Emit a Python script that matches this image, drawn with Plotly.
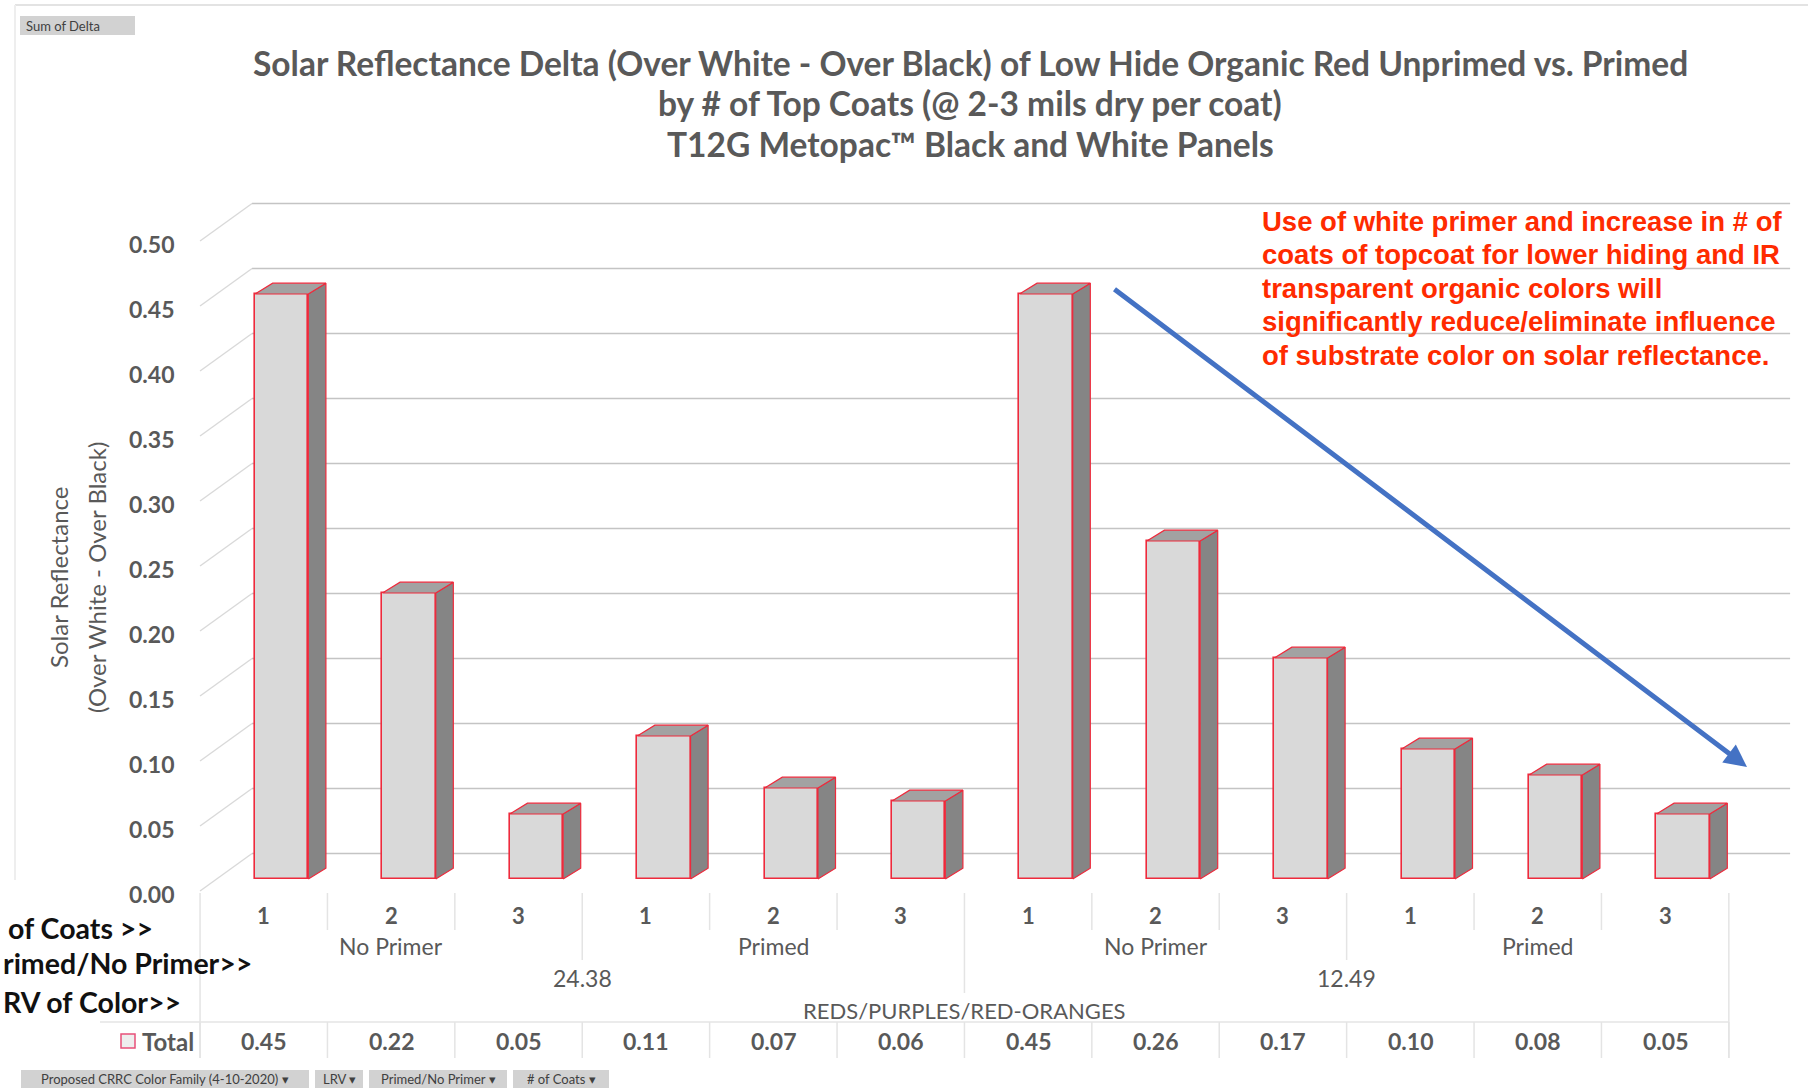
import plotly.graph_objects as go

# ---------------- data ----------------
family_label = ["REDS/PURPLES/RED-ORANGES"]
lrv_groups = ["24.38", "12.49"]
primer_groups = ["No Primer", "Primed", "No Primer", "Primed"]
coats = ["1", "2", "3", "1", "2", "3", "1", "2", "3", "1", "2", "3"]
delta_total = [0.45, 0.22, 0.05, 0.11, 0.07, 0.06, 0.45, 0.26, 0.17, 0.10, 0.08, 0.05]
y_ticks = [0.00, 0.05, 0.10, 0.15, 0.20, 0.25, 0.30, 0.35, 0.40, 0.45, 0.50]

title_lines = [
    "Solar Reflectance Delta (Over White - Over Black) of Low Hide Organic Red Unprimed vs. Primed",
    "by # of Top Coats (@ 2-3 mils dry per coat)",
    "T12G Metopac\u2122 Black and White Panels",
]
note_lines = [
    "Use of white primer and increase in # of",
    "coats of topcoat for lower hiding and IR",
    "transparent organic colors will",
    "significantly reduce/eliminate influence",
    "of substrate color on solar reflectance.",
]
# row header boxes (their left parts run past the sheet edge)
row_headers = ["of Coats >>", "rimed/No Primer>>", "RV of Color>>"]
filter_buttons = ["Proposed CRRC Color Family (4-10-2020) \u25be", "LRV \u25be",
                  "Primed/No Primer \u25be", "# of Coats \u25be"]

# ---------------- geometry / style ----------------
W, H = 1808, 1088
X0_PX, PX_PER_CAT = 281.7, 127.4      # front-face centre of first column, column pitch
Y0_PX, PX_PER_UNIT = 879.0, 1300.0    # baseline of column fronts, pixels per unit of delta

BAR_W = 0.418            # front face width (category units)
DEPTH_DX, DEPTH_DY = 0.138, 0.0083     # column depth (oblique projection)
WALL_X0, WALL_X1 = -0.233, 11.84       # back wall extent
WALL_DY = 0.0196                        # back wall vertical shift
FRONT_X0, FRONT_DY = -0.641, -0.0092    # front edge of the side wall
TICK_X = -0.83
LABEL_DX = -0.141                       # category label offset from column centre

GREY_TXT = "#595959"
RED_EDGE = "#ee2a3c"
FONT = "Lato"


def px(x):
    return x / W


def py(y):
    return 1 - y / H


def label(x, y, text, size, color=GREY_TXT, bold=False, family=FONT,
          xref="paper", yref="paper", xanchor="center", angle=0):
    return dict(xref=xref, yref=yref, x=x, y=y, text=text, showarrow=False,
                xanchor=xanchor, yanchor="middle", textangle=angle,
                font=dict(family=family, size=size, color=color,
                          weight=700 if bold else 400))


n = len(delta_total)
idx = list(range(n))

fig = go.Figure()

# front faces
fig.add_trace(go.Bar(
    x=idx, y=delta_total, width=BAR_W,
    marker=dict(color="#d9d9d9", line=dict(color=RED_EDGE, width=1.6)),
    hoverinfo="skip", showlegend=False,
))

# side and top faces of the 3-D columns
side_x, side_y, top_x, top_y = [], [], [], []
for i, v in zip(idx, delta_total):
    r = i + BAR_W / 2
    l = i - BAR_W / 2
    side_x += [r, r, r + DEPTH_DX, r + DEPTH_DX, r, None]
    side_y += [0, v, v + DEPTH_DY, DEPTH_DY, 0, None]
    top_x += [l, r, r + DEPTH_DX, l + DEPTH_DX, l, None]
    top_y += [v, v, v + DEPTH_DY, v + DEPTH_DY, v, None]

fig.add_trace(go.Scatter(x=side_x, y=side_y, mode="lines", fill="toself",
                         fillcolor="#858585", line=dict(color=RED_EDGE, width=1.2),
                         hoverinfo="skip", showlegend=False))
fig.add_trace(go.Scatter(x=top_x, y=top_y, mode="lines", fill="toself",
                         fillcolor="#a2a2a2", line=dict(color=RED_EDGE, width=1.2),
                         hoverinfo="skip", showlegend=False))

shapes = []
annotations = []

# back wall gridlines, side wall diagonals and value labels
for t in y_ticks:
    shapes.append(dict(type="line", xref="x", yref="y", layer="below",
                       x0=WALL_X0, x1=WALL_X1, y0=t + WALL_DY, y1=t + WALL_DY,
                       line=dict(color="#c4c4c4", width=1.6)))
    shapes.append(dict(type="line", xref="x", yref="y", layer="below",
                       x0=FRONT_X0, x1=WALL_X0, y0=t + FRONT_DY, y1=t + WALL_DY,
                       line=dict(color="#d9d9d9", width=1.4)))
    annotations.append(label(TICK_X, t + FRONT_DY - 0.002, f"{t:.2f}", 23, bold=True,
                             xref="x", yref="y", xanchor="right"))

# axis title
annotations.append(label(px(58), py(578), "Solar Reflectance", 24, angle=-90))
annotations.append(label(px(96), py(578), "(Over White - Over Black)", 24, angle=-90))

# chart title
for k, line in enumerate(title_lines):
    annotations.append(label(px(970), py(63 + 40.5 * k), line, 33.5, bold=True))

# note text
for k, line in enumerate(note_lines):
    annotations.append(label(px(1260), py(221.5 + 33.4 * k), line, 27.5, color="#ff2b00",
                             bold=True, family="Liberation Sans", xanchor="left"))

# trend arrow
annotations.append(dict(xref="paper", yref="paper", x=px(1747), y=py(767),
                        axref="pixel", ayref="pixel", ax=1113 - 1747, ay=288 - 767,
                        text="", showarrow=True, arrowhead=2, arrowsize=0.9,
                        arrowwidth=5, arrowcolor="#4472c4"))

# ---------------- multi-level category table ----------------
TABLE_TOP = 893
for i, c in enumerate(coats):
    annotations.append(label(i + LABEL_DX, py(915), c, 22, bold=True, xref="x"))
    annotations.append(label(i + LABEL_DX, py(1041), f"{delta_total[i]:.2f}", 23,
                             bold=True, xref="x"))

per_primer = n // len(primer_groups)
for g, name in enumerate(primer_groups):
    centre = g * per_primer + (per_primer - 1) / 2
    annotations.append(label(centre + LABEL_DX, py(946), name, 23, xref="x"))

per_lrv = n // len(lrv_groups)
for g, name in enumerate(lrv_groups):
    centre = g * per_lrv + (per_lrv - 1) / 2
    annotations.append(label(centre + LABEL_DX, py(978), name, 23, xref="x"))

annotations.append(label((n - 1) / 2 + LABEL_DX, py(1010), family_label[0], 22, xref="x"))

# divider lines between categories
for k in range(-1, n):
    xb = k + 0.5 + LABEL_DX
    if k in (-1, n - 1):
        bottom = 1058
    elif (k + 1) % per_lrv == 0:
        bottom = 993
    elif (k + 1) % per_primer == 0:
        bottom = 960
    else:
        bottom = 930
    shapes.append(dict(type="line", xref="x", yref="paper", x0=xb, x1=xb,
                       y0=py(TABLE_TOP), y1=py(bottom),
                       line=dict(color="#e4e4e4", width=1.5)))
    shapes.append(dict(type="line", xref="x", yref="paper", x0=xb, x1=xb,
                       y0=py(1022), y1=py(1058),
                       line=dict(color="#e4e4e4", width=1.5)))

shapes.append(dict(type="line", xref="paper", yref="paper", x0=px(100),
                   x1=px(X0_PX + PX_PER_CAT * (n - 0.5 + LABEL_DX)),
                   y0=py(1022), y1=py(1022), line=dict(color="#e4e4e4", width=1.5)))

# legend key + series name in the data row
shapes.append(dict(type="rect", xref="paper", yref="paper", x0=px(121), x1=px(135),
                   y0=py(1048), y1=py(1034), fillcolor="#eeeeee",
                   line=dict(color="#e8507a", width=1.5)))
annotations.append(label(px(140), py(1041), "Total", 24, bold=True, xanchor="left"))

# row header text boxes
for text, xl, yc in zip(row_headers, [6, 1, 1], [928, 963, 1002]):
    annotations.append(label(px(xl), py(yc), text, 28.5, color="#111111", bold=True,
                             xanchor="left"))

# ---------------- pivot chrome ----------------
shapes.append(dict(type="line", xref="paper", yref="paper", x0=px(15), x1=1,
                   y0=py(5), y1=py(5), line=dict(color="#e3e3e3", width=2)))
shapes.append(dict(type="line", xref="paper", yref="paper", x0=px(15), x1=px(15),
                   y0=py(5), y1=py(880), line=dict(color="#eeeeee", width=2)))

shapes.append(dict(type="rect", xref="paper", yref="paper", x0=px(20), x1=px(135),
                   y0=py(35), y1=py(16), fillcolor="#d2d2d2", line=dict(width=0)))
annotations.append(label(px(24), py(26), "Sum of Delta", 13, color="#404040",
                         xanchor="left"))

for text, (x0, x1) in zip(filter_buttons, [(21, 309), (315, 363), (369, 507), (513, 609)]):
    shapes.append(dict(type="rect", xref="paper", yref="paper", x0=px(x0), x1=px(x1),
                       y0=py(1088), y1=py(1070), fillcolor="#d2d2d2", line=dict(width=0)))
    annotations.append(label(px((x0 + x1) / 2), py(1079), text, 13, color="#404040"))

fig.update_layout(
    width=W, height=H,
    margin=dict(l=0, r=0, t=0, b=0),
    paper_bgcolor="white", plot_bgcolor="white",
    showlegend=False, bargap=0,
    xaxis=dict(visible=False, domain=[0, 1],
               range=[-X0_PX / PX_PER_CAT, (W - X0_PX) / PX_PER_CAT], fixedrange=True),
    yaxis=dict(visible=False, domain=[0, 1],
               range=[(Y0_PX - H) / PX_PER_UNIT, Y0_PX / PX_PER_UNIT], fixedrange=True),
    shapes=shapes,
    annotations=annotations,
)

fig.write_html("out.html", config={"displayModeBar": False})
